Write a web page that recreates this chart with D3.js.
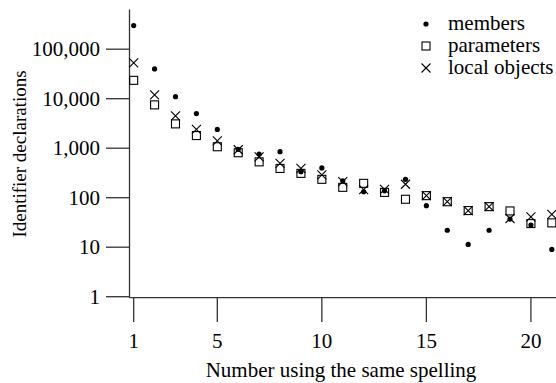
<!DOCTYPE html>
<html>
<head>
<meta charset="utf-8">
<script src="https://cdnjs.cloudflare.com/ajax/libs/d3/7.8.5/d3.min.js"></script>
<style>
body { margin: 0; background: #fff; }
text { font-family: "Liberation Serif", "Times New Roman", serif; fill: #000; }
</style>
</head>
<body>
<div class="chart"></div>
<script>
var spelling = [1, 2, 3, 4, 5, 6, 7, 8, 9, 10, 11, 12, 13, 14, 15, 16, 17, 18, 19, 20, 21];
var members = [300000, 40000, 11000, 5000, 2400, 950, 760, 850, 335, 400, 220, 132, 138, 235, 69, 22, 11.4, 22, 37, 28, 9];
var parameters = [23500, 7500, 3100, 1800, 1070, 810, 530, 390, 310, 235, 162, 195, 128, 93, 110, 83, 55, 66, 54, 30, 31];
var localObjects = [53000, 11900, 4500, 2400, 1400, 930, 670, 495, 390, 288, 211, 145, 148, 187, 110, 83, 55, 66, 38, 41, 46];
var xTicks = [1, 5, 10, 15, 20];
var yTicks = [1, 10, 100, 1000, 10000, 100000];
var seriesNames = ["members", "parameters", "local objects"];

var width = 556, height = 383;
var svg = d3.select(".chart").append("svg")
    .attr("width", width)
    .attr("height", height);

var x = d3.scaleLinear().domain([0.8, 21.2]).range([129.5, 556]);
var y = d3.scaleLog().domain([1, Math.pow(10, 5.8)]).range([296.7, 9.6]);
var axisY = y(1) + 1;

// axis lines
svg.append("line")
    .attr("x1", x(0.8)).attr("x2", x(0.8))
    .attr("y1", y.range()[1]).attr("y2", axisY)
    .attr("stroke", "#333").attr("stroke-width", 1.3);
svg.append("line")
    .attr("x1", x(0.8)).attr("x2", width)
    .attr("y1", axisY).attr("y2", axisY)
    .attr("stroke", "#333").attr("stroke-width", 1.3);

// y ticks
var yt = svg.selectAll(".ytick")
    .data(yTicks).enter()
    .append("g")
    .attr("class", "ytick")
    .attr("transform", function(d) { return "translate(0," + y(d) + ")"; });
yt.append("line")
    .attr("x1", 106).attr("x2", x(0.8))
    .attr("stroke", "#333").attr("stroke-width", 1.3);
yt.append("text")
    .attr("x", 100)
    .attr("dy", "0.34em")
    .attr("text-anchor", "end")
    .style("font-size", "21px")
    .text(function(d) { return d3.format(",")(d); });

// x ticks
var xt = svg.selectAll(".xtick")
    .data(xTicks).enter()
    .append("g")
    .attr("class", "xtick")
    .attr("transform", function(d) { return "translate(" + x(d) + ",0)"; });
xt.append("line")
    .attr("y1", axisY).attr("y2", 322)
    .attr("stroke", "#333").attr("stroke-width", 1.3);
xt.append("text")
    .attr("y", 348)
    .attr("text-anchor", "middle")
    .style("font-size", "21px")
    .text(function(d) { return d; });

// axis titles
svg.append("text")
    .attr("x", 341).attr("y", 377)
    .attr("text-anchor", "middle")
    .style("font-size", "21px")
    .text("Number using the same spelling");
svg.append("text")
    .attr("transform", "translate(26,154) rotate(-90)")
    .attr("text-anchor", "middle")
    .style("font-size", "19px")
    .text("Identifier declarations");

// marker drawing
function drawMarker(sel, kind) {
  if (kind == 0) {
    sel.append("circle").attr("r", 2.6).attr("fill", "#000");
  } else if (kind == 1) {
    sel.append("rect")
      .attr("x", -4).attr("y", -4).attr("width", 8).attr("height", 8)
      .attr("fill", "none").attr("stroke", "#000").attr("stroke-width", 1.1);
  } else {
    sel.append("path")
      .attr("d", "M-4.5,-4.5L4.5,4.5M-4.5,4.5L4.5,-4.5")
      .attr("fill", "none").attr("stroke", "#000").attr("stroke-width", 1.1);
  }
}

var allSeries = [members, parameters, localObjects];
[1, 2, 0].forEach(function(k) {
  svg.selectAll(".pt" + k)
    .data(allSeries[k]).enter()
    .append("g")
    .attr("class", "pt" + k)
    .attr("transform", function(d, i) { return "translate(" + x(spelling[i]) + "," + y(d) + ")"; })
    .each(function() { drawMarker(d3.select(this), k); });
});

// legend
var legend = svg.selectAll(".legend")
    .data(seriesNames).enter()
    .append("g")
    .attr("class", "legend")
    .attr("transform", function(d, i) { return "translate(426," + (24 + i * 22) + ")"; });
legend.each(function(d, i) { drawMarker(d3.select(this), i); });
legend.append("text")
    .attr("x", 22)
    .attr("dy", "0.3em")
    .style("font-size", "21px")
    .text(function(d) { return d; });
</script>
</body>
</html>
